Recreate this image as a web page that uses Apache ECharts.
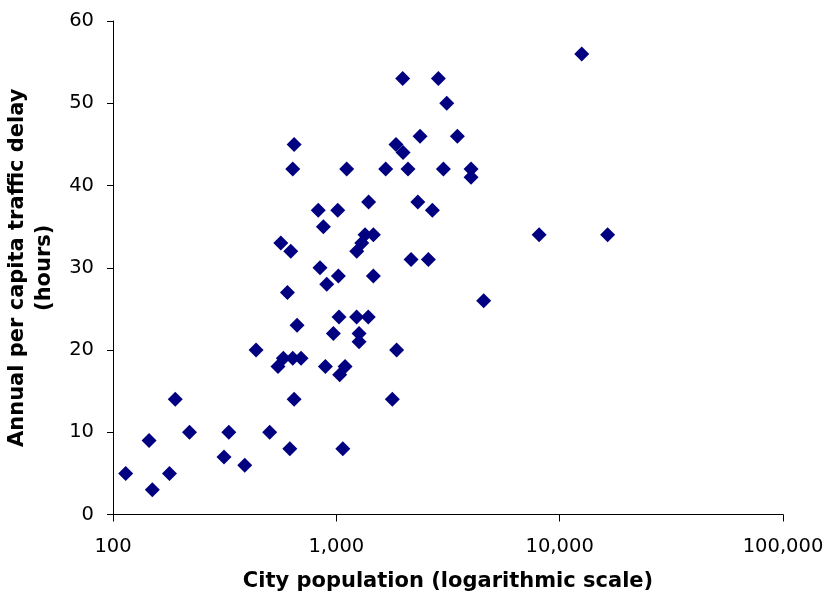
<!DOCTYPE html>
<html>
<head>
<meta charset="utf-8">
<script src="https://cdn.jsdelivr.net/npm/echarts@6/dist/echarts.min.js"></script>
<style>
html,body{margin:0;padding:0;background:#fff;}
#chart{width:825px;height:594px;}
</style>
</head>
<body>
<div id="chart"></div>
<script>
// City population (thousands, log scale) and annual per-capita traffic delay (hours)
const population = [
  114, 145, 150, 179, 190, 220, 314, 330, 389, 437,
  503, 548, 579, 638, 695, 647, 619, 667, 893, 1035,
  1094, 1069, 970, 1028, 1233, 1390, 1264, 1264, 1862, 1781,
  604, 906, 1021, 1465, 845, 564, 625, 875, 830, 1015,
  1395, 1345, 1465, 1300, 1234, 2161, 2583, 2316, 2692, 4570,
  8090, 16400, 647, 638, 1113, 1663, 2094, 1850, 1990, 3016,
  4010, 4010, 2371, 3484, 3121, 1982, 2864, 12560
];
const delayHours = [
  5, 9, 3, 5, 14, 10, 7, 10, 6, 20,
  10, 18, 19, 19, 19, 14, 8, 23, 18, 17,
  18, 8, 22, 24, 24, 24, 22, 21, 20, 14,
  27, 28, 29, 29, 30, 33, 32, 35, 37, 37,
  38, 34, 34, 33, 32, 31, 31, 38, 37, 26,
  34, 34, 45, 42, 42, 42, 42, 45, 44, 42,
  42, 41, 46, 46, 50, 53, 53, 56
];
const xTickValues = [100, 1000, 10000, 100000];
const yTickValues = [0, 10, 20, 30, 40, 50, 60];
const xTitle = 'City population (logarithmic scale)';
const yTitle = 'Annual per capita traffic delay\n(hours)';

function withCommas(v) {
  const s = String(Math.round(v));
  return s.replace(/\B(?=(\d{3})+(?!\d))/g, ',');
}

const points = population.map((p, i) => [p, delayHours[i]]);
const FONT = 'DejaVu Sans';

const chart = echarts.init(document.getElementById('chart'), null, {renderer: 'canvas'});
chart.setOption({
  animation: false,
  backgroundColor: '#ffffff',
  grid: {left: 113, right: 42, top: 21, bottom: 79.5, containLabel: false, outerBoundsMode: 'none'},
  xAxis: {
    type: 'log',
    logBase: 10,
    min: xTickValues[0],
    max: xTickValues[xTickValues.length - 1],
    name: xTitle,
    nameLocation: 'middle',
    nameGap: 57,
    nameTextStyle: {fontFamily: FONT, fontWeight: 'bold', fontSize: 21, color: '#000', lineHeight: 21},
    axisLine: {show: true, lineStyle: {color: '#000', width: 1}},
    axisTick: {show: true, length: 7, lineStyle: {color: '#000'}},
    minorTick: {show: false},
    splitLine: {show: false},
    axisLabel: {
      fontFamily: FONT, fontSize: 19.5, color: '#000', margin: 22, lineHeight: 20,
      formatter: v => withCommas(v)
    }
  },
  yAxis: {
    type: 'value',
    min: yTickValues[0],
    max: yTickValues[yTickValues.length - 1],
    interval: 10,
    name: yTitle,
    nameLocation: 'middle',
    nameGap: 55,
    nameRotate: 90,
    nameTextStyle: {fontFamily: FONT, fontWeight: 'bold', fontSize: 21, color: '#000', lineHeight: 27, align: 'center'},
    axisLine: {show: true, lineStyle: {color: '#000', width: 1}},
    axisTick: {show: true, length: 6, lineStyle: {color: '#000'}},
    splitLine: {show: false},
    axisLabel: {fontFamily: FONT, fontSize: 19.5, color: '#000', margin: 19}
  },
  series: [{
    type: 'scatter',
    data: points,
    symbol: 'diamond',
    symbolSize: 15,
    itemStyle: {color: '#000080', opacity: 1},
    emphasis: {disabled: true}
  }]
});
</script>
</body>
</html>
